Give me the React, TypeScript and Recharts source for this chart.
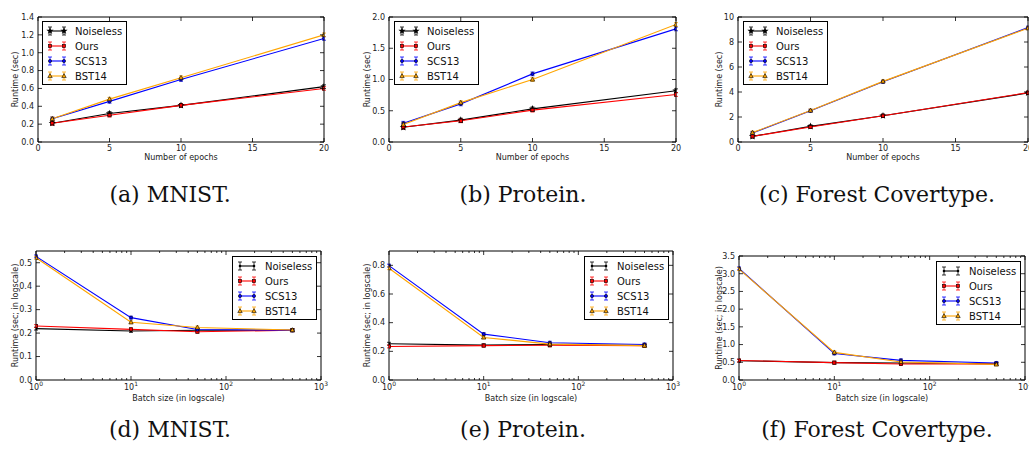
import { LineChart, Line, XAxis, YAxis, ErrorBar } from "recharts"

const FONT = "'DejaVu Sans', sans-serif"
const SERIF = "'DejaVu Serif', serif"

const seriesNames = ["Noiseless", "Ours", "SCS13", "BST14"]
const seriesColors = ["#000000", "#ff0000", "#0000ff", "#ffa500"]

const epochs = [1, 5, 10, 20]
const batchSizes = [1, 10, 50, 500]

const epochTicks = [0, 5, 10, 15, 20]
const batchTicks = [1, 10, 100, 1000]
const batchMinorTicks = [2, 3, 4, 5, 6, 7, 8, 9, 20, 30, 40, 50, 60, 70, 80, 90, 200, 300, 400, 500, 600, 700, 800, 900]

// (a) MNIST, runtime vs epochs
const mnistEpochNoiseless = [0.21, 0.32, 0.41, 0.62]
const mnistEpochOurs = [0.21, 0.3, 0.41, 0.6]
const mnistEpochScs13 = [0.26, 0.455, 0.7, 1.16]
const mnistEpochBst14 = [0.26, 0.48, 0.72, 1.2]
const mnistEpochErr = 0.02
const mnistEpochYTicks = [0, 0.2, 0.4, 0.6, 0.8, 1.0, 1.2, 1.4]

// (b) Protein, runtime vs epochs
const proteinEpochNoiseless = [0.235, 0.35, 0.53, 0.82]
const proteinEpochOurs = [0.24, 0.34, 0.51, 0.76]
const proteinEpochScs13 = [0.3, 0.61, 1.09, 1.81]
const proteinEpochBst14 = [0.28, 0.63, 1.0, 1.88]
const proteinEpochErr = 0.03
const proteinEpochYTicks = [0, 0.5, 1.0, 1.5, 2.0]

// (c) Forest Covertype, runtime vs epochs
const forestEpochNoiseless = [0.45, 1.25, 2.1, 3.92]
const forestEpochOurs = [0.45, 1.2, 2.1, 3.95]
const forestEpochScs13 = [0.72, 2.5, 4.82, 9.15]
const forestEpochBst14 = [0.75, 2.52, 4.85, 9.1]
const forestEpochErr = 0.12
const forestEpochYTicks = [0, 2, 4, 6, 8, 10]

// (d) MNIST, runtime vs batch size
const mnistBatchNoiseless = [0.219, 0.209, 0.212, 0.212]
const mnistBatchOurs = [0.23, 0.216, 0.206, 0.212]
const mnistBatchScs13 = [0.527, 0.266, 0.215, 0.212]
const mnistBatchBst14 = [0.521, 0.246, 0.224, 0.213]
const mnistBatchErr = 0.006
const mnistBatchYTicks = [0, 0.1, 0.2, 0.3, 0.4, 0.5]

// (e) Protein, runtime vs batch size
const proteinBatchNoiseless = [0.253, 0.243, 0.248, 0.241]
const proteinBatchOurs = [0.234, 0.24, 0.242, 0.24]
const proteinBatchScs13 = [0.798, 0.32, 0.26, 0.248]
const proteinBatchBst14 = [0.78, 0.297, 0.25, 0.24]
const proteinBatchErr = 0.01
const proteinBatchYTicks = [0, 0.2, 0.4, 0.6, 0.8]

// (f) Forest Covertype, runtime vs batch size
const forestBatchNoiseless = [0.545, 0.49, 0.48, 0.46]
const forestBatchOurs = [0.55, 0.49, 0.45, 0.45]
const forestBatchScs13 = [3.15, 0.75, 0.555, 0.48]
const forestBatchBst14 = [3.13, 0.78, 0.51, 0.44]
const forestBatchErr = 0.04
const forestBatchYTicks = [0, 0.5, 1.0, 1.5, 2.0, 2.5, 3.0, 3.5]

const captions = ["(a) MNIST.", "(b) Protein.", "(c) Forest Covertype.", "(d) MNIST.", "(e) Protein.", "(f) Forest Covertype."]

const PW = 343
const PH = 170

const panels = [
  { left: 0, top: 0, plot: [38, 17, 324, 142], xs: epochs, series: [mnistEpochNoiseless, mnistEpochOurs, mnistEpochScs13, mnistEpochBst14], err: mnistEpochErr, log: false, yDomain: [0, 1.4], yTicks: mnistEpochYTicks, digits: 1, yLabelX: 15, xLabelY: 160, legend: [42, 21], capX: 170, capY: 195 },
  { left: 343, top: 0, plot: [46, 17, 333, 142], xs: epochs, series: [proteinEpochNoiseless, proteinEpochOurs, proteinEpochScs13, proteinEpochBst14], err: proteinEpochErr, log: false, yDomain: [0, 2], yTicks: proteinEpochYTicks, digits: 1, yLabelX: 24, xLabelY: 160, legend: [51, 21], capX: 523, capY: 195 },
  { left: 686, top: 0, plot: [52, 17, 342, 142], xs: epochs, series: [forestEpochNoiseless, forestEpochOurs, forestEpochScs13, forestEpochBst14], err: forestEpochErr, log: false, yDomain: [0, 10], yTicks: forestEpochYTicks, digits: 0, yLabelX: 33, xLabelY: 160, legend: [57, 21], capX: 877, capY: 195 },
  { left: 0, top: 240, plot: [36, 11, 321, 140], xs: batchSizes, series: [mnistBatchNoiseless, mnistBatchOurs, mnistBatchScs13, mnistBatchBst14], err: mnistBatchErr, log: true, yDomain: [0, 0.55], yTicks: mnistBatchYTicks, digits: 1, yLabelX: 15, xLabelY: 161, legend: [232, 16], capX: 170, capY: 430 },
  { left: 343, top: 240, plot: [46, 11, 330, 140], xs: batchSizes, series: [proteinBatchNoiseless, proteinBatchOurs, proteinBatchScs13, proteinBatchBst14], err: proteinBatchErr, log: true, yDomain: [0, 0.9], yTicks: proteinBatchYTicks, digits: 1, yLabelX: 24, xLabelY: 161, legend: [241, 16], capX: 523, capY: 430 },
  { left: 686, top: 240, plot: [53, 16, 339, 140], xs: batchSizes, series: [forestBatchNoiseless, forestBatchOurs, forestBatchScs13, forestBatchBst14], err: forestBatchErr, log: true, yDomain: [0, 3.5], yTicks: forestBatchYTicks, digits: 1, yLabelX: 33, xLabelY: 161, legend: [250, 21], capX: 877, capY: 430 },
]

function Marker({ kind, cx, cy, color }: any) {
  if (kind === "star") {
    const pts: string[] = []
    for (let i = 0; i < 10; i++) {
      const r = i % 2 === 0 ? 3.8 : 1.6
      const a = -Math.PI / 2 + (i * Math.PI) / 5
      pts.push(`${cx + r * Math.cos(a)},${cy + r * Math.sin(a)}`)
    }
    return <polygon points={pts.join(" ")} fill="#000" />
  }
  if (kind === "dot") return <circle cx={cx} cy={cy} r={1.3} fill="#000" />
  if (kind === "square")
    return <rect x={cx - 1.6} y={cy - 1.6} width={3.2} height={3.2} fill={color} stroke="#000" strokeWidth={0.6} />
  if (kind === "circle") return <circle cx={cx} cy={cy} r={1.6} fill={color} stroke="#000" strokeWidth={0.6} />
  return (
    <polygon
      points={`${cx},${cy - 2.4} ${cx + 2.2},${cy + 1.6} ${cx - 2.2},${cy + 1.6}`}
      fill={color}
      stroke="#000"
      strokeWidth={0.6}
    />
  )
}

function markerKinds(log: boolean) {
  return [log ? "dot" : "star", "square", "circle", "triangle"]
}

function Legend({ x, y, log }: any) {
  const kinds = markerKinds(log)
  return (
    <svg width={86} height={65} style={{ position: "absolute", left: x, top: y }}>
      <rect x={0.5} y={0.5} width={84} height={63} fill="#fff" stroke="#000" strokeWidth={1} />
      {seriesNames.map((name, i) => {
        const cy = 10 + i * 15
        const c = seriesColors[i]
        return (
          <g key={name}>
            <line x1={8} x2={22} y1={cy} y2={cy} stroke={c} strokeWidth={1.1} />
            {[8, 22].map((ex) => (
              <g key={ex}>
                <line x1={ex} x2={ex} y1={cy - 4} y2={cy + 4} stroke={c} strokeWidth={0.8} />
                <line x1={ex - 2} x2={ex + 2} y1={cy - 4} y2={cy - 4} stroke={c} strokeWidth={0.8} />
                <line x1={ex - 2} x2={ex + 2} y1={cy + 4} y2={cy + 4} stroke={c} strokeWidth={0.8} />
                <Marker kind={kinds[i]} cx={ex} cy={cy} color={c} />
              </g>
            ))}
            <text x={33} y={cy} dy="0.35em" fontSize={10} fontFamily={FONT} fill="#111">
              {name}
            </text>
          </g>
        )
      })}
    </svg>
  )
}

function Panel({ p }: any) {
  const [L, T, R, B] = p.plot
  const kinds = markerKinds(p.log)
  const data = p.xs.map((x: number, i: number) => {
    const row: any = { x }
    seriesNames.forEach((name, k) => {
      row[name] = p.series[k][i]
      row[name + "_err"] = p.err
    })
    return row
  })
  const xTicks = p.log ? [...batchTicks, ...batchMinorTicks] : epochTicks
  const xDomain = p.log ? [1, 1000] : [0, 20]
  const isMajor = (v: number) => !p.log || batchTicks.includes(v)

  const bottomTick = (t: any) => {
    const v = t.payload.value
    const major = isMajor(v)
    return (
      <g>
        <line x1={t.x} x2={t.x} y1={t.y} y2={t.y - (major ? 4 : 2)} stroke="#000" strokeWidth={0.8} />
        {major &&
          (p.log ? (
            <text x={t.x} y={t.y + 10} textAnchor="middle" fontSize={8} fontFamily={FONT} fill="#222">
              10
              <tspan dy={-4} fontSize={6}>
                {Math.round(Math.log10(v))}
              </tspan>
            </text>
          ) : (
            <text x={t.x} y={t.y + 9} textAnchor="middle" fontSize={8} fontFamily={FONT} fill="#222">
              {v}
            </text>
          ))}
      </g>
    )
  }
  const topTick = (t: any) => {
    const major = isMajor(t.payload.value)
    return <line x1={t.x} x2={t.x} y1={t.y} y2={t.y + (major ? 4 : 2)} stroke="#000" strokeWidth={0.8} />
  }
  const leftTick = (t: any) => (
    <g>
      <line x1={t.x} x2={t.x + 4} y1={t.y} y2={t.y} stroke="#000" strokeWidth={0.8} />
      <text x={t.x - 4} y={t.y} dy="0.35em" textAnchor="end" fontSize={8} fontFamily={FONT} fill="#222">
        {t.payload.value.toFixed(p.digits)}
      </text>
    </g>
  )
  const rightTick = (t: any) => <line x1={t.x} x2={t.x - 4} y1={t.y} y2={t.y} stroke="#000" strokeWidth={0.8} />

  return (
    <div style={{ position: "absolute", left: p.left, top: p.top, width: PW, height: PH }}>
      <LineChart
        width={PW}
        height={PH}
        data={data}
        margin={{ top: T - 1, right: PW - R - 1, bottom: 0, left: 0 }}
        style={{ overflow: "visible" }}
      >
        <XAxis
          dataKey="x"
          type="number"
          scale={p.log ? "log" : "linear"}
          domain={xDomain}
          ticks={xTicks}
          interval={0}
          height={PH - B}
          tickSize={0}
          tickMargin={0}
          tickLine={false}
          axisLine={{ stroke: "#000", strokeWidth: 1 }}
          tick={bottomTick}
          allowDataOverflow
          label={{
            content: () => (
              <text x={(L + R) / 2} y={p.xLabelY} textAnchor="middle" fontSize={8} fontFamily={FONT} fill="#222">
                {p.log ? "Batch size (in logscale)" : "Number of epochs"}
              </text>
            ),
          }}
        />
        <XAxis
          xAxisId="top"
          orientation="top"
          dataKey="x"
          type="number"
          scale={p.log ? "log" : "linear"}
          domain={xDomain}
          ticks={xTicks}
          interval={0}
          height={1}
          tickSize={0}
          tickMargin={0}
          tickLine={false}
          axisLine={{ stroke: "#000", strokeWidth: 1 }}
          tick={topTick}
          allowDataOverflow
        />
        <YAxis
          type="number"
          domain={p.yDomain}
          ticks={p.yTicks}
          interval={0}
          width={L}
          tickSize={0}
          tickMargin={0}
          tickLine={false}
          axisLine={{ stroke: "#000", strokeWidth: 1 }}
          tick={leftTick}
          allowDataOverflow
          label={{
            content: () => (
              <text
                transform={`translate(${p.yLabelX},${(T + B) / 2}) rotate(-90)`}
                textAnchor="middle"
                dy="0.35em"
                fontSize={8}
                fontFamily={FONT}
                fill="#222"
              >
                {p.log ? "Runtime (sec; in logscale)" : "Runtime (sec)"}
              </text>
            ),
          }}
        />
        <YAxis
          yAxisId="right"
          orientation="right"
          type="number"
          domain={p.yDomain}
          ticks={p.yTicks}
          interval={0}
          width={1}
          tickSize={0}
          tickMargin={0}
          tickLine={false}
          axisLine={{ stroke: "#000", strokeWidth: 1 }}
          tick={rightTick}
          allowDataOverflow
        />
        {seriesNames.map((name, k) => (
          <Line
            key={name}
            dataKey={name}
            type="linear"
            stroke={seriesColors[k]}
            strokeWidth={1.1}
            isAnimationActive={false}
            dot={(d: any) => <Marker key={name + d.index} kind={kinds[k]} cx={d.cx} cy={d.cy} color={seriesColors[k]} />}
            activeDot={false}
          >
            <ErrorBar dataKey={name + "_err"} width={2} stroke={seriesColors[k]} strokeWidth={0.8} direction="y" isAnimationActive={false} />
          </Line>
        ))}
      </LineChart>
      <Legend x={p.legend[0]} y={p.legend[1]} log={p.log} />
    </div>
  )
}

export default function App() {
  return (
    <div style={{ position: "absolute", left: 0, top: 0, width: 1029, height: 449, background: "#fff", overflow: "hidden" }}>
      {panels.map((p, i) => (
        <Panel key={i} p={p} />
      ))}
      {panels.map((p, i) => (
        <div
          key={"c" + i}
          style={{
            position: "absolute",
            left: p.capX - 150,
            top: p.capY - 14,
            width: 300,
            textAlign: "center",
            fontFamily: SERIF,
            fontSize: 22,
            lineHeight: "28px",
            color: "#111",
          }}
        >
          {captions[i]}
        </div>
      ))}
    </div>
  )
}
